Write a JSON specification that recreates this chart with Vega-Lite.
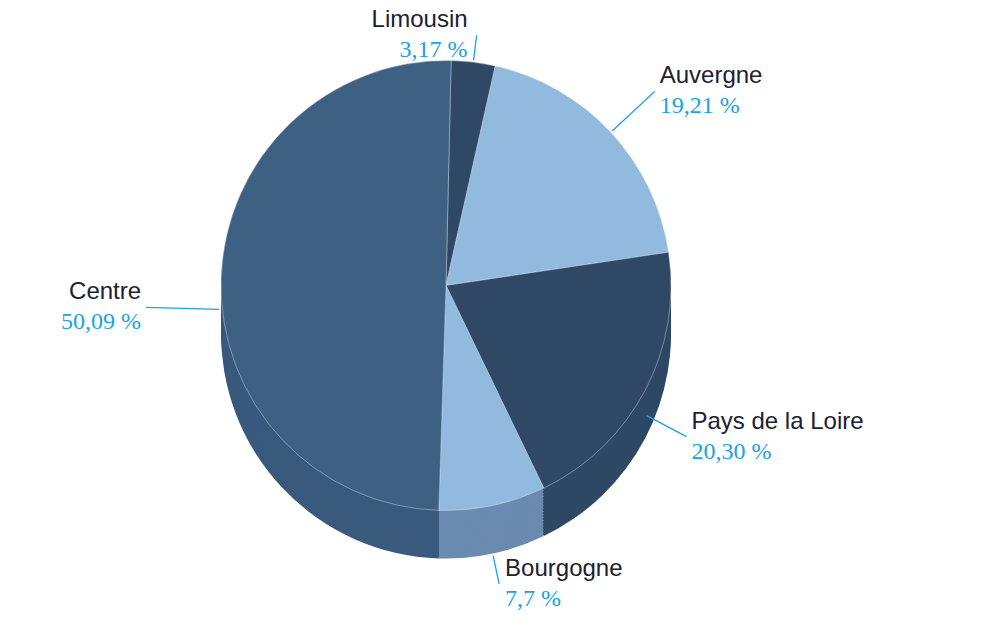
{
  "$schema": "https://vega.github.io/schema/vega-lite/v6.json",
  "width": 1005,
  "height": 627,
  "autosize": {"type": "fit", "contains": "padding"},
  "padding": {"left": 0, "right": 113, "top": 14, "bottom": 33},
  "background": "white",
  "config": {"view": {"stroke": null}},
  "data": {
    "values": [
      {"region": "Limousin", "value": 3.17, "pct": "3,17 %", "k": 1},
      {"region": "Auvergne", "value": 19.21, "pct": "19,21 %", "k": 2},
      {"region": "Pays de la Loire", "value": 20.30, "pct": "20,30 %", "k": 3},
      {"region": "Bourgogne", "value": 7.7, "pct": "7,7 %", "k": 4},
      {"region": "Centre", "value": 50.09, "pct": "50,09 %", "k": 5}
    ]
  },
  "encoding": {
    "theta": {"field": "value", "type": "quantitative", "stack": true, "scale": {"range": [0.0227, 6.3059]}},
    "order": {"field": "k", "type": "quantitative"},
    "detail": {"field": "region", "type": "nominal"}
  },
  "layer": [
    {"mark": {"type": "arc", "radius": 225, "yOffset": 48}, "encoding": {"color": {"field": "region", "type": "nominal", "legend": null, "scale": {"domain": ["Limousin", "Auvergne", "Pays de la Loire", "Bourgogne", "Centre"], "range": ["#2b4460", "#6a8ab0", "#2e4866", "#6a8ab0", "#39597d"]}}}},
    {"mark": {"type": "arc", "radius": 225, "yOffset": 45}, "encoding": {"color": {"field": "region", "type": "nominal", "legend": null, "scale": {"domain": ["Limousin", "Auvergne", "Pays de la Loire", "Bourgogne", "Centre"], "range": ["#2b4460", "#6a8ab0", "#2e4866", "#6a8ab0", "#39597d"]}}}},
    {"mark": {"type": "arc", "radius": 225, "yOffset": 42}, "encoding": {"color": {"field": "region", "type": "nominal", "legend": null, "scale": {"domain": ["Limousin", "Auvergne", "Pays de la Loire", "Bourgogne", "Centre"], "range": ["#2b4460", "#6a8ab0", "#2e4866", "#6a8ab0", "#39597d"]}}}},
    {"mark": {"type": "arc", "radius": 225, "yOffset": 39}, "encoding": {"color": {"field": "region", "type": "nominal", "legend": null, "scale": {"domain": ["Limousin", "Auvergne", "Pays de la Loire", "Bourgogne", "Centre"], "range": ["#2b4460", "#6a8ab0", "#2e4866", "#6a8ab0", "#39597d"]}}}},
    {"mark": {"type": "arc", "radius": 225, "yOffset": 36}, "encoding": {"color": {"field": "region", "type": "nominal", "legend": null, "scale": {"domain": ["Limousin", "Auvergne", "Pays de la Loire", "Bourgogne", "Centre"], "range": ["#2b4460", "#6a8ab0", "#2e4866", "#6a8ab0", "#39597d"]}}}},
    {"mark": {"type": "arc", "radius": 225, "yOffset": 33}, "encoding": {"color": {"field": "region", "type": "nominal", "legend": null, "scale": {"domain": ["Limousin", "Auvergne", "Pays de la Loire", "Bourgogne", "Centre"], "range": ["#2b4460", "#6a8ab0", "#2e4866", "#6a8ab0", "#39597d"]}}}},
    {"mark": {"type": "arc", "radius": 225, "yOffset": 30}, "encoding": {"color": {"field": "region", "type": "nominal", "legend": null, "scale": {"domain": ["Limousin", "Auvergne", "Pays de la Loire", "Bourgogne", "Centre"], "range": ["#2b4460", "#6a8ab0", "#2e4866", "#6a8ab0", "#39597d"]}}}},
    {"mark": {"type": "arc", "radius": 225, "yOffset": 27}, "encoding": {"color": {"field": "region", "type": "nominal", "legend": null, "scale": {"domain": ["Limousin", "Auvergne", "Pays de la Loire", "Bourgogne", "Centre"], "range": ["#2b4460", "#6a8ab0", "#2e4866", "#6a8ab0", "#39597d"]}}}},
    {"mark": {"type": "arc", "radius": 225, "yOffset": 24}, "encoding": {"color": {"field": "region", "type": "nominal", "legend": null, "scale": {"domain": ["Limousin", "Auvergne", "Pays de la Loire", "Bourgogne", "Centre"], "range": ["#2b4460", "#6a8ab0", "#2e4866", "#6a8ab0", "#39597d"]}}}},
    {"mark": {"type": "arc", "radius": 225, "yOffset": 21}, "encoding": {"color": {"field": "region", "type": "nominal", "legend": null, "scale": {"domain": ["Limousin", "Auvergne", "Pays de la Loire", "Bourgogne", "Centre"], "range": ["#2b4460", "#6a8ab0", "#2e4866", "#6a8ab0", "#39597d"]}}}},
    {"mark": {"type": "arc", "radius": 225, "yOffset": 18}, "encoding": {"color": {"field": "region", "type": "nominal", "legend": null, "scale": {"domain": ["Limousin", "Auvergne", "Pays de la Loire", "Bourgogne", "Centre"], "range": ["#2b4460", "#6a8ab0", "#2e4866", "#6a8ab0", "#39597d"]}}}},
    {"mark": {"type": "arc", "radius": 225, "yOffset": 15}, "encoding": {"color": {"field": "region", "type": "nominal", "legend": null, "scale": {"domain": ["Limousin", "Auvergne", "Pays de la Loire", "Bourgogne", "Centre"], "range": ["#2b4460", "#6a8ab0", "#2e4866", "#6a8ab0", "#39597d"]}}}},
    {"mark": {"type": "arc", "radius": 225, "yOffset": 12}, "encoding": {"color": {"field": "region", "type": "nominal", "legend": null, "scale": {"domain": ["Limousin", "Auvergne", "Pays de la Loire", "Bourgogne", "Centre"], "range": ["#2b4460", "#6a8ab0", "#2e4866", "#6a8ab0", "#39597d"]}}}},
    {"mark": {"type": "arc", "radius": 225, "yOffset": 9}, "encoding": {"color": {"field": "region", "type": "nominal", "legend": null, "scale": {"domain": ["Limousin", "Auvergne", "Pays de la Loire", "Bourgogne", "Centre"], "range": ["#2b4460", "#6a8ab0", "#2e4866", "#6a8ab0", "#39597d"]}}}},
    {"mark": {"type": "arc", "radius": 225, "yOffset": 6}, "encoding": {"color": {"field": "region", "type": "nominal", "legend": null, "scale": {"domain": ["Limousin", "Auvergne", "Pays de la Loire", "Bourgogne", "Centre"], "range": ["#2b4460", "#6a8ab0", "#2e4866", "#6a8ab0", "#39597d"]}}}},
    {"mark": {"type": "arc", "radius": 225, "yOffset": 3}, "encoding": {"color": {"field": "region", "type": "nominal", "legend": null, "scale": {"domain": ["Limousin", "Auvergne", "Pays de la Loire", "Bourgogne", "Centre"], "range": ["#2b4460", "#6a8ab0", "#2e4866", "#6a8ab0", "#39597d"]}}}},
    {"mark": {"type": "arc", "radius": 225, "stroke": "#dfe7ef", "strokeWidth": 0.6, "strokeOpacity": 0.7}, "encoding": {"color": {"field": "region", "type": "nominal", "legend": null, "scale": {"domain": ["Limousin", "Auvergne", "Pays de la Loire", "Bourgogne", "Centre"], "range": ["#2e4866", "#92badf", "#2e4866", "#92badf", "#3e6082"]}}}},

    {"mark": {"type": "arc", "radius": 252, "radius2": 227, "padAngle": 3.1416, "fill": "transparent", "stroke": "#1ca3e0", "strokeWidth": 1.3}, "encoding": {"strokeOpacity": {"condition": {"test": "datum.region === 'Limousin'", "value": 1}, "value": 0}}},
    {"mark": {"type": "text", "radius": 252, "align": "right", "baseline": "bottom", "dx": -9, "dy": -3, "font": "Liberation Sans", "fontSize": 24, "fill": "#1b2130"}, "encoding": {"text": {"field": "region"}, "opacity": {"condition": {"test": "datum.region === 'Limousin'", "value": 1}, "value": 0}}},
    {"mark": {"type": "text", "radius": 252, "align": "right", "baseline": "top", "dx": -9, "dy": 3, "font": "Liberation Serif", "fontSize": 24, "fill": "#1ca3e0"}, "encoding": {"text": {"field": "pct"}, "opacity": {"condition": {"test": "datum.region === 'Limousin'", "value": 1}, "value": 0}}},

    {"mark": {"type": "arc", "radius": 285, "radius2": 227, "padAngle": 3.1416, "fill": "transparent", "stroke": "#1ca3e0", "strokeWidth": 1.3}, "encoding": {"strokeOpacity": {"condition": {"test": "datum.region === 'Auvergne'", "value": 1}, "value": 0}}},
    {"mark": {"type": "text", "radius": 285, "align": "left", "baseline": "bottom", "dx": 5, "dy": -3, "font": "Liberation Sans", "fontSize": 24, "fill": "#1b2130"}, "encoding": {"text": {"field": "region"}, "opacity": {"condition": {"test": "datum.region === 'Auvergne'", "value": 1}, "value": 0}}},
    {"mark": {"type": "text", "radius": 285, "align": "left", "baseline": "top", "dx": 5, "dy": 3, "font": "Liberation Serif", "fontSize": 24, "fill": "#1ca3e0"}, "encoding": {"text": {"field": "pct"}, "opacity": {"condition": {"test": "datum.region === 'Auvergne'", "value": 1}, "value": 0}}},

    {"mark": {"type": "arc", "radius": 272, "radius2": 227, "padAngle": 3.1416, "yOffset": 24, "fill": "transparent", "stroke": "#1ca3e0", "strokeWidth": 1.3}, "encoding": {"strokeOpacity": {"condition": {"test": "datum.region === 'Pays de la Loire'", "value": 1}, "value": 0}}},
    {"mark": {"type": "text", "radius": 272, "yOffset": 24, "align": "left", "baseline": "bottom", "dx": 5, "dy": -3, "font": "Liberation Sans", "fontSize": 24, "fill": "#1b2130"}, "encoding": {"text": {"field": "region"}, "opacity": {"condition": {"test": "datum.region === 'Pays de la Loire'", "value": 1}, "value": 0}}},
    {"mark": {"type": "text", "radius": 272, "yOffset": 24, "align": "left", "baseline": "top", "dx": 5, "dy": 3, "font": "Liberation Serif", "fontSize": 24, "fill": "#1ca3e0"}, "encoding": {"text": {"field": "pct"}, "opacity": {"condition": {"test": "datum.region === 'Pays de la Loire'", "value": 1}, "value": 0}}},

    {"mark": {"type": "arc", "radius": 256, "radius2": 227, "padAngle": 3.1416, "yOffset": 48, "fill": "transparent", "stroke": "#1ca3e0", "strokeWidth": 1.3}, "encoding": {"strokeOpacity": {"condition": {"test": "datum.region === 'Bourgogne'", "value": 1}, "value": 0}}},
    {"mark": {"type": "text", "radius": 256, "yOffset": 48, "align": "left", "baseline": "bottom", "dx": 6, "dy": -3, "font": "Liberation Sans", "fontSize": 24, "fill": "#1b2130"}, "encoding": {"text": {"field": "region"}, "opacity": {"condition": {"test": "datum.region === 'Bourgogne'", "value": 1}, "value": 0}}},
    {"mark": {"type": "text", "radius": 256, "yOffset": 48, "align": "left", "baseline": "top", "dx": 6, "dy": 3, "font": "Liberation Serif", "fontSize": 24, "fill": "#1ca3e0"}, "encoding": {"text": {"field": "pct"}, "opacity": {"condition": {"test": "datum.region === 'Bourgogne'", "value": 1}, "value": 0}}},

    {"mark": {"type": "arc", "radius": 300, "radius2": 227, "padAngle": 3.1416, "yOffset": 30, "fill": "transparent", "stroke": "#1ca3e0", "strokeWidth": 1.3}, "encoding": {"strokeOpacity": {"condition": {"test": "datum.region === 'Centre'", "value": 1}, "value": 0}}},
    {"mark": {"type": "text", "radius": 300, "yOffset": 30, "align": "right", "baseline": "bottom", "dx": -5, "dy": -3, "font": "Liberation Sans", "fontSize": 24, "fill": "#1b2130"}, "encoding": {"text": {"field": "region"}, "opacity": {"condition": {"test": "datum.region === 'Centre'", "value": 1}, "value": 0}}},
    {"mark": {"type": "text", "radius": 300, "yOffset": 30, "align": "right", "baseline": "top", "dx": -5, "dy": 3, "font": "Liberation Serif", "fontSize": 24, "fill": "#1ca3e0"}, "encoding": {"text": {"field": "pct"}, "opacity": {"condition": {"test": "datum.region === 'Centre'", "value": 1}, "value": 0}}}
  ],
  "resolve": {"scale": {"color": "independent"}}
}
